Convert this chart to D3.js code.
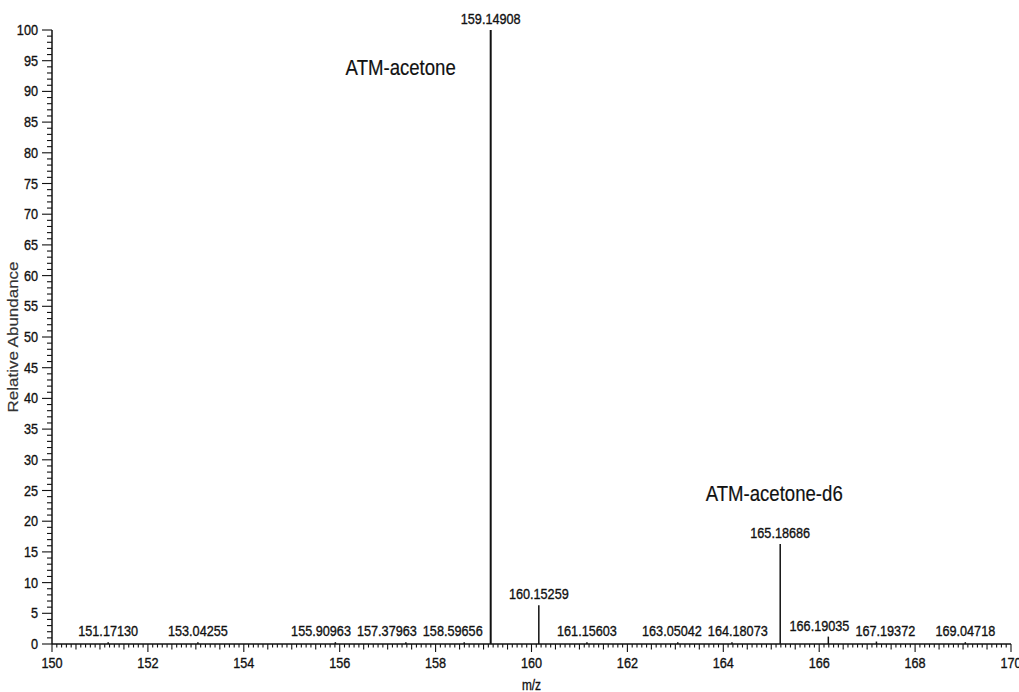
<!DOCTYPE html>
<html>
<head>
<meta charset="utf-8">
<script src="https://cdn.jsdelivr.net/npm/d3@7"></script>
<style>
  html, body { margin: 0; padding: 0; background: #fff; }
  svg { display: block; }
  text { font-family: "Liberation Sans", Arial, sans-serif; fill: #111; stroke: #111; stroke-width: 0.35px; }
</style>
</head>
<body>
<svg id="chart" width="1019" height="692"></svg>
<script>
// ---- data ----
const peakMz = [151.17130, 153.04255, 155.90963, 157.37963, 158.59656, 159.14908, 160.15259,
                161.15603, 163.05042, 164.18073, 165.18686, 166.19035, 167.19372, 169.04718];
const peakAbundance = [0.3, 0.3, 0.3, 0.3, 0.3, 100, 6.3, 0.3, 0.3, 0.3, 16.3, 1.2, 0.4, 0.3];
const annotationText = ["ATM-acetone", "ATM-acetone-d6"];
const annotationPeak = [159.14908, 165.18686];
const xTickValues = [150, 152, 154, 156, 158, 160, 162, 164, 166, 168, 170];
const yTickValues = [0, 5, 10, 15, 20, 25, 30, 35, 40, 45, 50, 55, 60, 65, 70, 75, 80, 85, 90, 95, 100];
const xLabel = "m/z";
const yLabel = "Relative Abundance";

// ---- layout ----
const SX = 0.845; // horizontal condensation of text
const svg = d3.select("#chart");
const x = d3.scaleLinear().domain([150, 170]).range([52, 1011]);
const y = d3.scaleLinear().domain([0, 100]).range([644, 30]);
const ink = "#111";

function hText(g, px, py, anchor, size, txt) {
  return g.append("text")
    .attr("transform", `translate(${px},${py}) scale(${SX},1)`)
    .attr("text-anchor", anchor)
    .attr("font-size", size)
    .text(txt);
}

// ---- axes ----
const axes = svg.append("g");
axes.append("line").attr("x1", x(150)).attr("x2", x(150)).attr("y1", y(0)).attr("y2", y(100))
  .attr("stroke", ink).attr("stroke-width", 1.5);
axes.selectAll(".ymin").data(d3.range(0, 101, 1)).enter().append("line")
  .attr("x1", x(150)).attr("x2", d => x(150) - (d % 5 === 0 ? 10 : 5))
  .attr("y1", d => y(d)).attr("y2", d => y(d))
  .attr("stroke", ink).attr("stroke-width", 1.1);
yTickValues.forEach(v => hText(axes, x(150) - 14, y(v) + 5, "end", 15, String(v)));

axes.append("line").attr("x1", x(150)).attr("x2", x(170)).attr("y1", y(0)).attr("y2", y(0))
  .attr("stroke", ink).attr("stroke-width", 1.5);
const minorX = d3.range(1500, 1701, 1).map(d => d / 10);
axes.selectAll(".xmin").data(minorX).enter().append("line")
  .attr("x1", d => x(d)).attr("x2", d => x(d))
  .attr("y1", y(0))
  .attr("y2", (d, i) => y(0) + (i % 20 === 0 ? 8 : (i % 5 === 0 ? 5.5 : 3.5)))
  .attr("stroke", ink).attr("stroke-width", 1.1);
xTickValues.forEach(v => hText(axes, x(v), 668, "middle", 15, String(v)));

hText(axes, (x(150) + x(170)) / 2, 690, "middle", 14, xLabel);
axes.append("text")
  .attr("transform", `translate(18,${(y(0) + y(100)) / 2}) rotate(-90) scale(1,${SX})`)
  .attr("text-anchor", "middle").attr("font-size", 17)
  .style("stroke-width", "0.2px").style("fill", "#333").style("stroke", "#333")
  .text(yLabel);

// ---- peaks ----
const peaks = peakMz.map((m, i) => ({ mz: m, ab: peakAbundance[i] }));
svg.append("g").selectAll("line").data(peaks).enter().append("line")
  .attr("x1", d => x(d.mz)).attr("x2", d => x(d.mz))
  .attr("y1", y(0)).attr("y2", d => y(d.ab))
  .attr("stroke", ink).attr("stroke-width", d => d.ab > 50 ? 2 : 1.5);

// ---- peak labels with simple collision avoidance ----
const lg = svg.append("g");
const labels = peaks.map(d => {
  const t = hText(lg, 0, 0, "middle", 15, d.mz.toFixed(5));
  const w = t.node().getComputedTextLength() * SX;
  return { d, t, w, cx: x(d.mz), by: y(d.ab) - 6 };
});
const tall = peaks.filter(d => d.ab > 3);
const gap = 6;
const lowRow = labels.filter(l => !(l.d.ab > 3));
lowRow.sort((a, b) => a.cx - b.cx);
for (let iter = 0; iter < 200; iter++) {
  for (let i = 0; i < lowRow.length - 1; i++) {
    const a = lowRow[i], b = lowRow[i + 1];
    const ov = (a.cx + a.w / 2 + gap) - (b.cx - b.w / 2);
    if (ov > 0) { a.cx -= ov / 2; b.cx += ov / 2; }
  }
  lowRow.forEach(l => {
    tall.forEach(p => {
      const px = x(p.mz);
      if (l.by > y(p.ab) - 20 && Math.abs(l.cx - px) < l.w / 2 + 8) {
        const orig = x(l.d.mz);
        l.cx = orig < px ? px - 8 - l.w / 2 : px + 8 + l.w / 2;
      }
    });
  });
}
labels.forEach(l => l.t.attr("transform", `translate(${l.cx},${l.by}) scale(${SX},1)`));

// ---- annotations ----
const annOffsets = [[-90, 45], [-6, -43]];
annotationText.forEach((txt, i) => {
  const m = annotationPeak[i];
  const ab = peakAbundance[peakMz.indexOf(m)];
  hText(svg, x(m) + annOffsets[i][0], y(ab) + annOffsets[i][1], "middle", 22, txt)
    .style("stroke-width", "0.2px");
});
</script>
</body>
</html>
